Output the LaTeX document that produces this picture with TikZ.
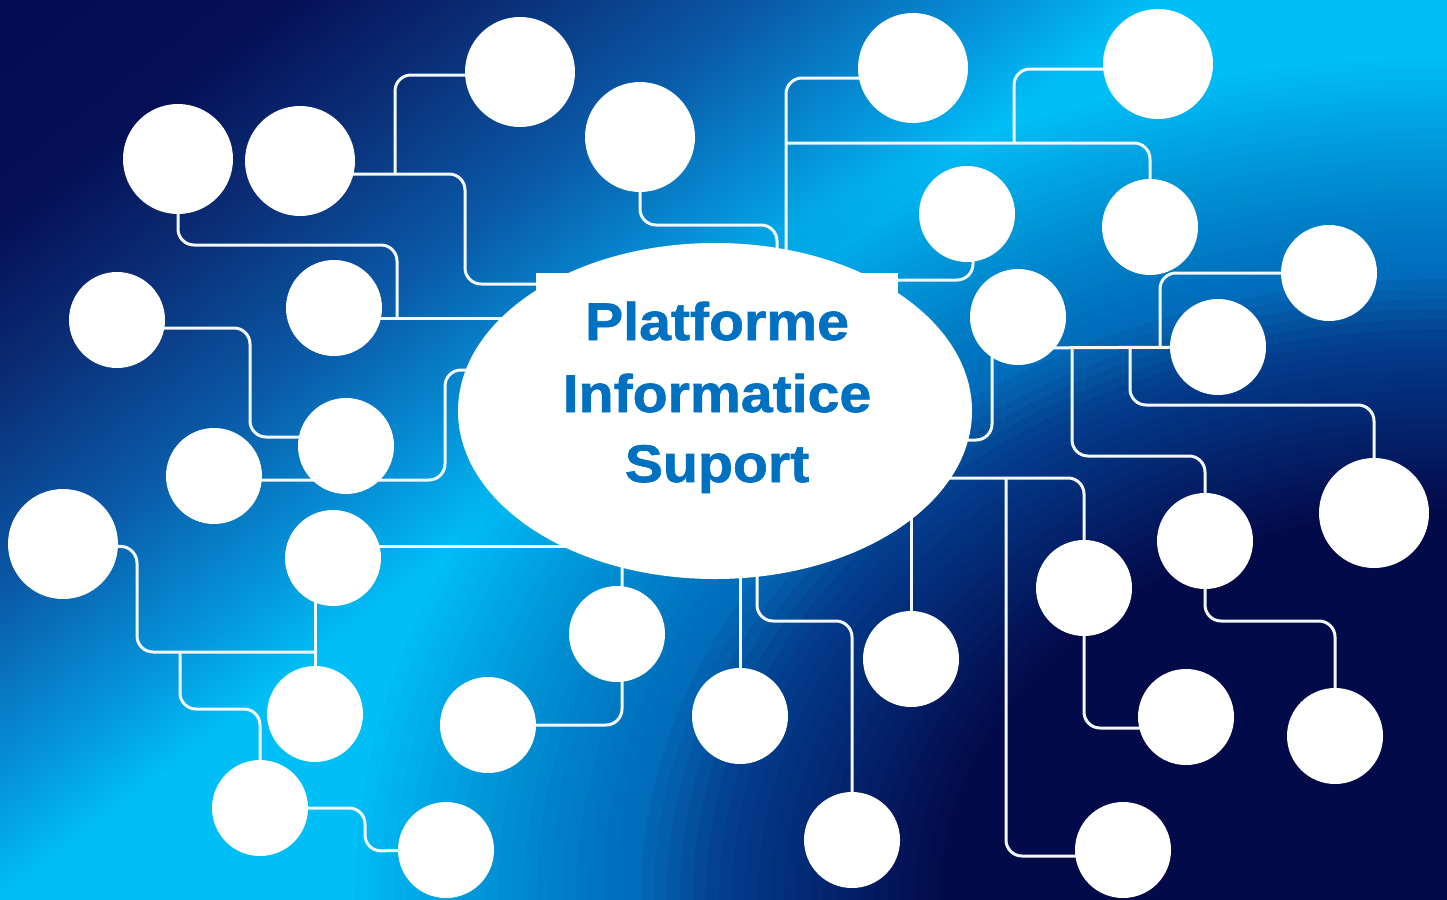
\documentclass[tikz,border=0pt]{standalone}
\usepackage{fontspec}
\newfontfamily\titlefont[FakeStretch=1.08,FakeBold=1.2]{Liberation Sans}
\usetikzlibrary{shapes.geometric}
\definecolor{s0}{HTML}{02094A}
\definecolor{s1}{HTML}{040F55}
\definecolor{s2}{HTML}{0A2D75}
\definecolor{s3}{HTML}{0A5AA8}
\definecolor{s4}{HTML}{0592D8}
\definecolor{s5}{HTML}{00BEF6}
\definecolor{lobemid}{HTML}{0A55AA}
\definecolor{lobe}{HTML}{030A4A}
\definecolor{wirecol}{HTML}{F2F8FC}
\definecolor{textblue}{HTML}{0070C0}
\pgfdeclarehorizontalshading{bgshade}{100bp}{color(0bp)=(s0); color(28.75bp)=(s0); color(37.96bp)=(s1); color(40.71bp)=(s2); color(44.17bp)=(s3); color(47.17bp)=(s4); color(49.2bp)=(s5); color(100bp)=(s5)}
\pgfdeclarelayer{bgl}
\pgfdeclarelayer{wires}
\pgfsetlayers{bgl,wires,main}
\tikzset{
  wire/.style={draw=wirecol, line width=3pt, rounded corners=16pt},
  dotL/.style={circle, fill=white, inner sep=0pt, minimum size=110pt},
  dotS/.style={circle, fill=white, inner sep=0pt, minimum size=96pt},
  title/.style={anchor=base, inner sep=0pt, text=textblue, font={\titlefont\bfseries\fontsize{53pt}{60pt}\selectfont}}
}
\begin{document}
\begin{tikzpicture}[x=1pt,y=-1pt]
\useasboundingbox (0,0) rectangle (1447,899);
\begin{pgfonlayer}{bgl}
  \begin{scope}
    \clip (0,0) rectangle (1447,899);
    \begin{scope}[transform canvas={shift={(800,330)}, rotate=-52.2}]
      \shade[shading=bgshade] (-1200pt,-1200pt) rectangle (1200pt,1200pt);
    \end{scope}
    % blue then navy lobe in the lower right corner
    \foreach \k in {1,...,30} {
      \pgfmathsetmacro\rr{840-(\k-1)*10}
      \pgfmathsetmacro\op{1/(31-\k)}
      \fill[lobemid, fill opacity=\op] (1447,899) ellipse [x radius={1.3*\rr}, y radius=\rr];
    }
    \foreach \k in {1,...,24} {
      \pgfmathsetmacro\rr{620-(\k-1)*10}
      \pgfmathsetmacro\op{1/(25-\k)}
      \fill[lobe, fill opacity=\op] (1447,899) ellipse [x radius={1.3*\rr}, y radius=\rr];
    }
  \end{scope}
\end{pgfonlayer}

% circles
\node[dotL] (c1) at (178,159) {};
\node[dotL] (c2) at (300,161) {};
\node[dotL] (c3) at (520,72) {};
\node[dotL] (c4) at (640,137) {};
\node[dotL] (c5) at (913,68) {};
\node[dotL] (c6) at (1158,64) {};
\node[dotS] (c7) at (967,214) {};
\node[dotS] (c8) at (1150,227) {};
\node[dotS] (c9) at (1329,273) {};
\node[dotS] (c10) at (1018,317) {};
\node[dotS] (c11) at (1218,347) {};
\node[dotL] (c12) at (1374,513) {};
\node[dotS] (c13) at (1205,541) {};
\node[dotS] (c14) at (1084,588) {};
\node[dotS] (c15) at (1186,717) {};
\node[dotS] (c16) at (1335,736) {};
\node[dotS] (c17) at (1123,850) {};
\node[dotS] (c18) at (911,659) {};
\node[dotS] (c19) at (740,716) {};
\node[dotS] (c20) at (852,840) {};
\node[dotS] (c21) at (617,634) {};
\node[dotS] (c22) at (488,725) {};
\node[dotS] (c23) at (446,850) {};
\node[dotS] (c24) at (260,808) {};
\node[dotS] (c25) at (315,714) {};
\node[dotS] (c26) at (333,558) {};
\node[dotL] (c27) at (63,544) {};
\node[dotS] (c28) at (214,476) {};
\node[dotS] (c29) at (346,446) {};
\node[dotS] (c30) at (117,320) {};
\node[dotS] (c31) at (334,308) {};

% central hub
\node[ellipse, fill=white, inner sep=0pt, minimum width=514pt, minimum height=336pt] (hub) at (715,411) {};
\node[fill=white, inner sep=0pt, minimum width=362pt, minimum height=150pt, anchor=north west] (box) at (536,273) {};
\node[title] (t1) at (717,340) {Platforme};
\node[title] (t2) at (717,412) {Informatice};
\node[title] (t3) at (717,482) {Suport};

\begin{pgfonlayer}{wires}
  % top left
  \draw[wire] ([yshift=-3pt]c3.center) -| (395,174);
  \draw[wire] ([yshift=-13pt]c2.center) -- (465,174) -- (465,284) -- (hub.center |- 0,284);
  \draw[wire] (c1.center) -- (178,245) -- (397,245) -- (397,318);
  \draw[wire] ([yshift=-10pt]c31.center) -- (hub.center |- 0,318);
  \draw[wire] ([yshift=-8pt]c30.center) -- (250,328) -- (250,437) -- (c29.center |- 0,437);
  \draw[wire] ([yshift=-4pt]c28.center) -- (445,480) -- (445,370) -- (hub.center |- 0,370);
  \draw[wire] ([yshift=12pt]c26.center) -- (hub.center |- 0,546);
  % bottom left
  \draw[wire] (c27.center) -- (137,547) -- (137,652) -- (317,652);
  \draw[wire] (c26.center -| c25.center) -- (c25.center);
  \draw[wire] (180,652) -- (180,709) -| (c24.center);
  \draw[wire] (c24.center) -| (365,851) -- (c23.center);
  % bottom centre
  \draw[wire] (622,560) |- (c22.center);
  \draw[wire] (c19.center |- hub.center) -- (c19.center);
  \draw[wire] (757,560) -- (757,621) -| (c20.center);
  \draw[wire] (c18.center |- 0,505) -- (c18.center);
  % bottom right
  \draw[wire] (hub.center |- 0,478) -| (c14.center);
  \draw[wire] (1006,478) -- (1006,856) -- ([yshift=-6pt]c17.center);
  \draw[wire] (c14.center) |- ([yshift=-11pt]c15.center);
  \draw[wire] (c13.center) -- (1205,621) -| (c16.center);
  % right middle
  \draw[wire] (1018,348) -- (c11.center);
  \draw[wire] (1072,348) -- (1072,456) -| (c13.center);
  \draw[wire] (1130,348) -- (1130,405) -| (c12.center);
  \draw[wire] (1160,348) |- (c9.center);
  \draw[wire] (992,330) -- (992,440) -- (hub.center |- 0,440);
  % top right
  \draw[wire] ([xshift=6pt]c7.center) -- (973,280) -- (hub.center |- 0,280);
  \draw[wire] ([yshift=-10pt]c5.center) -| (hub.center -| 786,0);
  \draw[wire] (786,143) -| (c8.center);
  \draw[wire] ([yshift=-5pt]c6.center) -| (1014,143);
  \draw[wire] (c4.center) |- (777,225) -- (hub.center -| 777,0);
\end{pgfonlayer}
\end{tikzpicture}
\end{document}
